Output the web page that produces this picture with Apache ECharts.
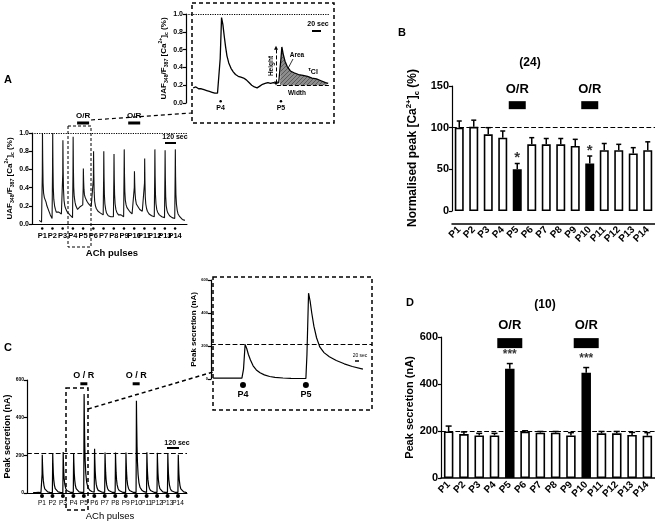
<!DOCTYPE html>
<html>
<head>
<meta charset="utf-8">
<script src="https://cdn.jsdelivr.net/npm/echarts@6/dist/echarts.min.js"></script>
<style>
html, body { margin: 0; padding: 0; background: #fff; }
#chart { width: 655px; height: 521px; }
</style>
</head>
<body>
<div id="chart"></div>
<script>
// ---- shared categories
const pulses = ['P1','P2','P3','P4','P5','P6','P7','P8','P9','P10','P11','P12','P13','P14'];
const orPulses = ['P5', 'P10'];

// ---- panel A: [Ca2+]c ratio trace, [time s, ratio]
const pulseTimesA = [120,240,360,480,600,720,840,960,1080,1200,1320,1440,1560,1680];
const traceA = [
  [85,0.04],[95,0.03],[105,0.05],[112,0.02],[118,0.03],[121,0.55],[123,1.0],[126,0.7],[130,0.45],[136,0.34],[145,0.29],[155,0.27],[165,0.24],[175,0.2],[185,0.18],[195,0.15],[205,0.13],[215,0.1],[225,0.08],[236,0.06],
  [241,0.6],[243,1.0],[246,0.65],[250,0.4],[256,0.27],[265,0.2],[275,0.16],[285,0.13],[295,0.12],[305,0.14],[315,0.13],[325,0.12],[335,0.13],[345,0.11],[356,0.09],
  [361,0.55],[363,0.92],[366,0.6],[370,0.38],[376,0.26],[385,0.2],[395,0.17],[405,0.15],[415,0.13],[425,0.12],[435,0.11],[445,0.1],[455,0.09],[465,0.08],[476,0.07],
  [481,0.55],[483,0.96],[486,0.62],[490,0.4],[496,0.3],[505,0.24],[515,0.2],[525,0.18],[535,0.16],[545,0.15],[555,0.17],[565,0.19],[575,0.21],[585,0.2],[596,0.21],
  [601,0.4],[603,0.61],[606,0.48],[610,0.38],[616,0.32],[625,0.29],[635,0.27],[645,0.25],[655,0.24],[665,0.22],[675,0.21],[685,0.2],[695,0.19],[705,0.2],[716,0.18],
  [721,0.5],[723,0.8],[726,0.55],[730,0.35],[736,0.25],[745,0.2],[755,0.17],[765,0.16],[775,0.14],[785,0.14],[795,0.13],[805,0.12],[815,0.12],[825,0.11],[836,0.1],
  [841,0.5],[843,0.8],[846,0.52],[850,0.32],[856,0.22],[865,0.16],[875,0.12],[885,0.1],[895,0.09],[905,0.08],[915,0.09],[925,0.08],[935,0.09],[945,0.08],[956,0.08],
  [961,0.5],[963,0.77],[966,0.5],[970,0.32],[976,0.22],[985,0.16],[995,0.13],[1005,0.11],[1015,0.1],[1025,0.1],[1035,0.09],[1045,0.1],[1055,0.09],[1065,0.09],[1076,0.08],
  [1081,0.55],[1083,0.82],[1086,0.55],[1090,0.36],[1096,0.26],[1105,0.21],[1115,0.18],[1125,0.17],[1135,0.16],[1145,0.14],[1155,0.13],[1165,0.12],[1175,0.11],[1185,0.1],[1196,0.1],
  [1201,0.4],[1203,0.58],[1206,0.45],[1210,0.34],[1216,0.27],[1225,0.22],[1235,0.2],[1245,0.19],[1255,0.17],[1265,0.16],[1275,0.15],[1285,0.14],[1295,0.14],[1305,0.13],[1316,0.12],
  [1321,0.45],[1323,0.72],[1326,0.48],[1330,0.3],[1336,0.22],[1345,0.17],[1355,0.14],[1365,0.12],[1375,0.11],[1385,0.1],[1395,0.09],[1405,0.09],[1415,0.08],[1425,0.08],[1436,0.08],
  [1441,0.55],[1443,0.82],[1446,0.52],[1450,0.32],[1456,0.22],[1465,0.16],[1475,0.13],[1485,0.11],[1495,0.1],[1505,0.09],[1515,0.08],[1525,0.08],[1535,0.07],[1545,0.07],[1556,0.07],
  [1561,0.55],[1563,0.81],[1566,0.5],[1570,0.3],[1576,0.2],[1585,0.15],[1595,0.12],[1605,0.1],[1615,0.09],[1625,0.08],[1635,0.07],[1645,0.07],[1655,0.06],[1665,0.06],[1676,0.06],
  [1681,0.55],[1683,0.82],[1686,0.52],[1690,0.32],[1696,0.22],[1705,0.15],[1715,0.11],[1725,0.09],[1735,0.08],[1745,0.07],[1755,0.06],[1765,0.05],[1775,0.05],[1785,0.04],[1795,0.04]
];
// inset of A (P4, P5)
const insetPulsesA = ['P4', 'P5'];
const insetTimesA = [77, 211];
const insetTraceA = [
  [16,0.17],[22,0.18],[28,0.16],[34,0.16],[40,0.15],[46,0.14],[52,0.13],[58,0.12],[64,0.11],[70,0.11],[74,0.12],[76,0.5],[79,0.96],[82,0.88],[85,0.75],[88,0.63],[91,0.53],[95,0.45],[100,0.39],[105,0.35],[110,0.32],[116,0.3],[122,0.29],[128,0.28],[134,0.26],[140,0.23],[146,0.2],[152,0.18],[158,0.17],[164,0.19],[170,0.21],[176,0.22],[182,0.23],[188,0.22],[194,0.23],[200,0.22],[206,0.23],
  [209,0.24],[211,0.5],[213,0.63],[216,0.55],[220,0.47],[225,0.41],[232,0.36],[240,0.34],[250,0.32],[260,0.31],[270,0.3],[280,0.28],[290,0.27],[300,0.25],[310,0.23],[316,0.22]
];
const areaBaseA = 0.2;

// ---- panel B: normalised peak [Ca2+]c (%)
const peakB = [100, 101, 92, 88, 50, 80, 80, 80, 78, 57, 73, 73, 69, 73];
const errB  = [108, 109, 100, 96, 57, 88, 87, 87, 86, 66, 81, 80, 76, 83];
const sigB  = ['', '', '', '', '*', '', '', '', '', '*', '', '', '', ''];

// ---- panel C: secretion trace (nA), [time s, nA]
const pulseTimesC = [172,292,412,532,652,772,892,1012,1132,1252,1372,1492,1612,1732];
const traceC = [
  [70,2],[100,2],[130,3],[160,2],[171,2],[173,100],[175,203],[178,152],[182,102],[187,67],[194,41],[204,22],[217,12],[237,6],[262,3],
  [291,2],[293,105],[295,211],[298,158],[302,105],[307,70],[314,42],[324,23],[337,13],[357,6],[382,3],
  [411,2],[413,108],[415,218],[418,163],[422,109],[427,72],[434,44],[444,24],[457,13],[477,7],[502,3],
  [531,3],[533,105],[535,211],[538,158],[542,105],[547,70],[554,42],[564,23],[577,13],[597,6],[622,3],
  [651,3],[653,260],[655,525],[658,395],[662,265],[667,172],[674,105],[684,58],[697,32],[717,16],[742,8],
  [771,4],[773,118],[775,235],[778,176],[782,118],[787,78],[794,47],[804,26],[817,14],[837,7],[862,4],
  [891,3],[893,107],[895,215],[898,161],[902,108],[907,71],[914,43],[924,24],[937,13],[957,6],[982,3],
  [1011,3],[1013,107],[1015,215],[1018,161],[1022,108],[1027,71],[1034,43],[1044,24],[1057,13],[1077,6],[1102,3],
  [1131,3],[1133,107],[1135,215],[1138,161],[1142,108],[1147,71],[1154,43],[1164,24],[1177,13],[1197,6],[1222,3],
  [1251,3],[1253,245],[1255,490],[1258,368],[1262,245],[1267,162],[1274,98],[1284,54],[1297,29],[1317,15],[1342,7],
  [1371,3],[1373,108],[1375,216],[1378,162],[1382,108],[1387,71],[1394,43],[1404,24],[1417,13],[1437,6],[1462,3],
  [1491,3],[1493,106],[1495,213],[1498,160],[1502,106],[1507,70],[1514,43],[1524,23],[1537,13],[1557,6],[1582,3],
  [1611,3],[1613,105],[1615,210],[1618,158],[1622,105],[1627,69],[1634,42],[1644,23],[1657,12],[1677,6],[1702,3],
  [1731,3],[1733,101],[1735,203],[1738,152],[1742,102],[1747,67],[1754,41],[1764,22],[1777,12],[1797,6],[1822,3],[1835,2]
];
const refC = 213;
// inset of C (P4, P5)
const insetPulsesC = ['P4', 'P5'];
const insetTimesC = [60, 178];
const insetTraceC = [
  [4,5],[20,5],[40,5],[58,5],[61,60],[64,210],[67,185],[70,150],[74,115],[79,80],[85,55],[92,38],[100,25],[110,15],[120,10],[135,6],[150,4],[165,3],[178,3],
  [180,150],[183,520],[186,470],[189,400],[193,320],[198,250],[204,195],[212,160],[222,135],[235,112],[250,92],[265,76],[285,60]
];

// ---- panel D: peak secretion (nA)
const peakD = [198, 187, 181, 181, 465, 197, 193, 193, 181, 448, 190, 190, 183, 180];
const errD  = [221, 196, 190, 190, 487, 201, 198, 198, 193, 470, 198, 198, 194, 193];
const sigD  = ['', '', '', '', '***', '', '', '', '', '***', '', '', '', ''];

const FONT = '"Liberation Sans", Arial, sans-serif';

// hatch for the "Area" region
const hatch = document.createElement('canvas');
hatch.width = 4; hatch.height = 4;
const hc = hatch.getContext('2d');
hc.fillStyle = '#8c8c8c'; hc.fillRect(0, 0, 4, 4);
hc.strokeStyle = '#5a5a5a'; hc.lineWidth = 1;
hc.beginPath(); hc.moveTo(0, 4); hc.lineTo(4, 0); hc.stroke();

function richSub(size, lh) {
  return {
    t: { fontSize: size, fontWeight: 'bold', lineHeight: lh, fontFamily: FONT, fill: '#000', color: '#000' },
    s: { fontSize: size * 0.65, fontWeight: 'bold', lineHeight: lh, verticalAlign: 'bottom', fontFamily: FONT, fill: '#000', color: '#000' },
    p: { fontSize: size * 0.65, fontWeight: 'bold', lineHeight: lh, verticalAlign: 'top', fontFamily: FONT, fill: '#000', color: '#000' }
  };
}

function yName(size, lh) {
  return { fontSize: size, fontWeight: 'bold', color: '#000', fontFamily: FONT, rich: richSub(size, lh) };
}

function traceXAxis(grid, max, showLine) {
  return {
    type: 'value', gridIndex: grid, min: 0, max: max,
    axisLine: { show: showLine, onZero: false, lineStyle: { color: '#000', width: 1 } },
    axisTick: { show: false }, axisLabel: { show: false }, splitLine: { show: false }
  };
}

function valueYAxis(grid, max, interval, fs, fmt, name, nameStyle, gap) {
  return {
    type: 'value', gridIndex: grid, min: 0, max: max, interval: interval,
    axisLine: { show: true, lineStyle: { color: '#000', width: 1.2 } },
    axisTick: { show: true, length: 3, lineStyle: { color: '#000', width: 1.2 } },
    axisLabel: { fontSize: fs, fontWeight: 'bold', color: '#000', margin: 3, fontFamily: FONT, formatter: fmt,
                 showMinLabel: true, showMaxLabel: true, hideOverlap: false },
    splitLine: { show: false },
    name: name, nameLocation: 'middle', nameRotate: 90, nameGap: gap, nameTextStyle: nameStyle
  };
}

function errorBars(xi, yi, base, tops, cap) {
  return {
    type: 'custom', xAxisIndex: xi, yAxisIndex: yi, z: 3,
    data: tops.map((t, i) => [i, base[i], t]),
    renderItem(params, api) {
      const lo = api.coord([api.value(0), api.value(1)]);
      const hi = api.coord([api.value(0), api.value(2)]);
      return {
        type: 'group',
        children: [
          { type: 'line', shape: { x1: lo[0], y1: lo[1], x2: hi[0], y2: hi[1] }, style: { stroke: '#000', lineWidth: 1.5 } },
          { type: 'line', shape: { x1: hi[0] - cap / 2, y1: hi[1], x2: hi[0] + cap / 2, y2: hi[1] }, style: { stroke: '#000', lineWidth: 1.5 } }
        ]
      };
    }
  };
}

function barData(vals) {
  return vals.map((v, i) => ({
    value: v,
    itemStyle: { color: orPulses.includes(pulses[i]) ? '#000' : '#fff' }
  }));
}

function sigLabels(xi, yi, tops, sig, fs, dist) {
  return {
    type: 'scatter', xAxisIndex: xi, yAxisIndex: yi, symbolSize: 0, z: 5,
    data: sig.map((s, i) => [i, tops[i], s]).filter(d => d[2]),
    label: { show: true, position: 'top', distance: dist, formatter: p => p.value[2],
             fontSize: fs, fontWeight: 'bold', color: '#000', fontFamily: FONT }
  };
}

function orMarks(xi, yi, xs, y, size, text, fs, dist) {
  return {
    type: 'scatter', xAxisIndex: xi, yAxisIndex: yi, symbol: 'rect', symbolSize: size, clip: false, z: 5,
    itemStyle: { color: '#000', opacity: 1 },
    data: xs.map(x => [x, y]),
    label: { show: true, position: 'top', distance: dist, formatter: text,
             fontSize: fs, fontWeight: 'bold', color: '#000', fontFamily: FONT }
  };
}

function pulseDots(xi, yi, xs, names, y, size, fs, weight, dist) {
  return {
    type: 'scatter', xAxisIndex: xi, yAxisIndex: yi, symbol: 'circle', symbolSize: size, clip: false, z: 5,
    itemStyle: { color: '#000', opacity: 1 },
    data: xs.map((x, i) => [x, y, names[i]]),
    label: { show: true, position: 'bottom', distance: dist, formatter: p => p.value[2],
             fontSize: fs, fontWeight: weight, color: '#000', fontFamily: FONT }
  };
}

function refLine(value, type) {
  return {
    silent: true, symbol: 'none', label: { show: false },
    lineStyle: { color: '#000', type: type, width: 1.2 },
    data: [{ yAxis: value }]
  };
}

const chart = echarts.init(document.getElementById('chart'));

const option = {
  animation: false,
  backgroundColor: '#fff',
  textStyle: { fontFamily: FONT },
  grid: [
    { left: 32, top: 133, width: 155, height: 91, outerBoundsMode: 'none' },   // A
    { left: 186, top: 14, width: 144, height: 89, outerBoundsMode: 'none' },   // A inset
    { left: 452, top: 86, width: 203, height: 125, outerBoundsMode: 'none' },  // B
    { left: 27, top: 380, width: 160, height: 113, outerBoundsMode: 'none' },  // C
    { left: 211, top: 280, width: 161, height: 99, outerBoundsMode: 'none' },  // C inset
    { left: 441, top: 337, width: 214, height: 141, outerBoundsMode: 'none' }  // D
  ],
  xAxis: [
    traceXAxis(0, 1820, true),
    traceXAxis(1, 320, false),
    {
      type: 'category', gridIndex: 2, data: pulses, offset: 13,
      axisLine: { onZero: false, lineStyle: { color: '#000', width: 1.5 } },
      axisTick: { alignWithLabel: true, length: 4, lineStyle: { color: '#000', width: 1.2 } },
      axisLabel: { rotate: 45, fontSize: 10, fontWeight: 'bold', color: '#000', margin: 4, fontFamily: FONT, interval: 0 }
    },
    traceXAxis(3, 1835, true),
    traceXAxis(4, 302, false),
    {
      type: 'category', gridIndex: 5, data: pulses,
      axisLine: { lineStyle: { color: '#000', width: 1.5 } },
      axisTick: { alignWithLabel: true, length: 4, lineStyle: { color: '#000', width: 1.2 } },
      axisLabel: { rotate: 45, fontSize: 10, fontWeight: 'bold', color: '#000', margin: 5, fontFamily: FONT, interval: 0 }
    }
  ],
  yAxis: [
    valueYAxis(0, 1, 0.2, 7, v => v.toFixed(1),
      '{t|UAF}{s|348}{t|/F}{s|387}{t| [Ca}{p|2+}{t|]}{s|c}{t| (%)}', yName(8, 11), 17),
    valueYAxis(1, 1, 0.2, 7, v => v.toFixed(1),
      '{t|UAF}{s|348}{t|/F}{s|387}{t| [Ca}{p|2+}{t|]}{s|c}{t| (%)}', yName(8, 11), 17),
    valueYAxis(2, 150, 50, 11, v => String(v), '', {}, 28),
    valueYAxis(3, 600, 200, 5, null, 'Peak secretion (nA)', yName(9, 12), 12),
    valueYAxis(4, 600, 200, 4, null, 'Peak secretion (nA)', yName(8, 11), 12),
    valueYAxis(5, 600, 200, 11, null, 'Peak secretion (nA)', yName(11, 14), 26)
  ],
  series: [
    // A
    { type: 'line', xAxisIndex: 0, yAxisIndex: 0, data: traceA, showSymbol: false,
      lineStyle: { color: '#111', width: 1.1 }, markLine: refLine(1, 'dotted') },
    pulseDots(0, 0, pulseTimesA, pulses, -0.05, 2.5, 7.5, 'bold', 2),
    orMarks(0, 0, [pulseTimesA[4], pulseTimesA[9]], 1.11, [12, 3], 'O/R', 8, 2),
    // A inset
    { type: 'line', xAxisIndex: 1, yAxisIndex: 1, data: insetTraceA, showSymbol: false,
      lineStyle: { color: '#000', width: 1.3 }, markLine: refLine(1, 'dotted') },
    { type: 'line', xAxisIndex: 1, yAxisIndex: 1, data: insetTraceA.filter(p => p[0] >= 209),
      showSymbol: false, lineStyle: { width: 0 },
      areaStyle: { color: { image: hatch, repeat: 'repeat' }, origin: areaBaseA, opacity: 1 },
      markLine: {
        silent: true, label: { show: false }, symbol: ['none', 'none'],
        lineStyle: { color: '#000', type: 'dashed', width: 1 },
        data: [
          [{ coord: [202, areaBaseA] }, { coord: [318, areaBaseA] }],
          [{ coord: [200, 0.22], symbol: 'triangle', symbolSize: 4, symbolRotate: 180 },
           { coord: [200, 0.62], symbol: 'triangle', symbolSize: 4 }]
        ]
      } },
    pulseDots(1, 1, insetTimesA, insetPulsesA, 0.02, 2.5, 7, 'bold', 2),
    // B
    { type: 'bar', xAxisIndex: 2, yAxisIndex: 2, data: barData(peakB), barWidth: '62%',
      itemStyle: { borderColor: '#000', borderWidth: 1.6 }, markLine: refLine(100, 'dashed') },
    errorBars(2, 2, peakB, errB, 5),
    sigLabels(2, 2, errB, sigB, 15, -2),
    orMarks(2, 2, orPulses, 127, [17, 8], 'O/R', 13, 5),
    // C
    { type: 'line', xAxisIndex: 3, yAxisIndex: 3, data: traceC, showSymbol: false,
      lineStyle: { color: '#000', width: 1.2 }, markLine: refLine(refC, 'dashed') },
    pulseDots(3, 3, pulseTimesC, pulses, -16, 4, 6.5, 'normal', 2),
    orMarks(3, 3, [pulseTimesC[4], pulseTimesC[9]], 580, [7, 3], 'O / R', 9, 2),
    // C inset
    { type: 'line', xAxisIndex: 4, yAxisIndex: 4, data: insetTraceC, showSymbol: false,
      lineStyle: { color: '#000', width: 1.2 }, markLine: refLine(refC, 'dashed') },
    pulseDots(4, 4, insetTimesC, insetPulsesC, -36, 6, 9, 'bold', 2),
    // D
    { type: 'bar', xAxisIndex: 5, yAxisIndex: 5, data: barData(peakD), barWidth: '62%',
      itemStyle: { borderColor: '#000', borderWidth: 1.6 }, markLine: refLine(200, 'dashed') },
    errorBars(5, 5, peakD, errD, 6),
    sigLabels(5, 5, errD, sigD, 12, 3),
    orMarks(5, 5, orPulses, 574, [25, 10], 'O/R', 13, 6)
  ],
  graphic: [
    // panel letters and counts
    { type: 'text', x: 8, y: 80, style: { text: 'A', font: 'bold 11px ' + FONT, fill: '#000', align: 'center', verticalAlign: 'middle' } },
    { type: 'text', x: 402, y: 33, style: { text: 'B', font: 'bold 11px ' + FONT, fill: '#000', align: 'center', verticalAlign: 'middle' } },
    { type: 'text', x: 8, y: 348, style: { text: 'C', font: 'bold 11px ' + FONT, fill: '#000', align: 'center', verticalAlign: 'middle' } },
    { type: 'text', x: 410, y: 303, style: { text: 'D', font: 'bold 11px ' + FONT, fill: '#000', align: 'center', verticalAlign: 'middle' } },
    { type: 'text', x: 530, y: 63, style: { text: '(24)', font: 'bold 12px ' + FONT, fill: '#000', align: 'center', verticalAlign: 'middle' } },
    { type: 'text', x: 545, y: 305, style: { text: '(10)', font: 'bold 12px ' + FONT, fill: '#000', align: 'center', verticalAlign: 'middle' } },
    // B axis title
    { type: 'text', x: 413, y: 148, rotation: Math.PI / 2,
      style: { text: '{t|Normalised peak [Ca}{p|2+}{t|]}{s|c}{t| (%)}', font: 'bold 12px ' + FONT, fill: '#000',
               align: 'center', verticalAlign: 'middle', rich: richSub(12, 16) } },
    { type: 'text', x: 112, y: 253, style: { text: 'ACh pulses', font: 'bold 9.5px ' + FONT, fill: '#000', align: 'center', verticalAlign: 'middle' } },
    { type: 'text', x: 110, y: 516, style: { text: 'ACh pulses', font: '9.5px ' + FONT, fill: '#000', align: 'center', verticalAlign: 'middle' } },
    // scale bars
    { type: 'text', x: 175, y: 137, style: { text: '120 sec', font: 'bold 7px ' + FONT, fill: '#000', align: 'center', verticalAlign: 'middle' } },
    { type: 'line', shape: { x1: 165, y1: 143, x2: 176, y2: 143 }, style: { stroke: '#000', lineWidth: 2 } },
    { type: 'text', x: 318, y: 24, style: { text: '20 sec', font: 'bold 7px ' + FONT, fill: '#000', align: 'center', verticalAlign: 'middle' } },
    { type: 'line', shape: { x1: 312, y1: 31, x2: 321, y2: 31 }, style: { stroke: '#000', lineWidth: 2 } },
    { type: 'text', x: 177, y: 443, style: { text: '120 sec', font: 'bold 7px ' + FONT, fill: '#000', align: 'center', verticalAlign: 'middle' } },
    { type: 'line', shape: { x1: 167, y1: 448, x2: 179, y2: 448 }, style: { stroke: '#000', lineWidth: 2 } },
    { type: 'text', x: 360, y: 356, style: { text: '20 sec', font: '5px ' + FONT, fill: '#000', align: 'center', verticalAlign: 'middle' } },
    { type: 'line', shape: { x1: 355, y1: 361, x2: 359, y2: 361 }, style: { stroke: '#000', lineWidth: 1.5 } },
    // inset A annotations
    { type: 'text', x: 271, y: 66, rotation: Math.PI / 2, style: { text: 'Height', font: 'bold 6.5px ' + FONT, fill: '#000', align: 'center', verticalAlign: 'middle' } },
    { type: 'text', x: 297, y: 55, style: { text: 'Area', font: 'bold 6.5px ' + FONT, fill: '#000', align: 'center', verticalAlign: 'middle' } },
    { type: 'line', shape: { x1: 293, y1: 59, x2: 284, y2: 76 }, style: { stroke: '#000', lineWidth: 0.8 } },
    { type: 'text', x: 313, y: 71, style: { text: '{a|τ}{b|Cl}', font: 'bold 7px ' + FONT, fill: '#000', align: 'center', verticalAlign: 'middle',
      rich: { a: { font: 'bold 6px ' + FONT, verticalAlign: 'top', lineHeight: 10 }, b: { font: 'bold 7px ' + FONT, verticalAlign: 'bottom', lineHeight: 10 } } } },
    { type: 'text', x: 297, y: 93, style: { text: 'Width', font: 'bold 6.5px ' + FONT, fill: '#000', align: 'center', verticalAlign: 'middle' } },
    // zoom boxes, inset frames and connectors
    { type: 'rect', shape: { x: 68, y: 126, width: 23, height: 121 }, style: { fill: 'none', stroke: '#000', lineWidth: 1, lineDash: [3, 2] } },
    { type: 'rect', shape: { x: 192, y: 3, width: 142, height: 120 }, style: { fill: 'none', stroke: '#000', lineWidth: 1.5, lineDash: [4, 3] } },
    { type: 'line', shape: { x1: 91, y1: 120, x2: 192, y2: 113 }, style: { stroke: '#000', lineWidth: 1.2, lineDash: [4, 3] } },
    { type: 'rect', shape: { x: 66, y: 388, width: 22, height: 122 }, style: { fill: 'none', stroke: '#000', lineWidth: 1.5, lineDash: [4, 3] } },
    { type: 'rect', shape: { x: 213, y: 277, width: 159, height: 133 }, style: { fill: 'none', stroke: '#000', lineWidth: 1.5, lineDash: [4, 3] } },
    { type: 'line', shape: { x1: 88, y1: 409, x2: 213, y2: 372 }, style: { stroke: '#000', lineWidth: 1.5, lineDash: [4, 3] } }
  ]
};

chart.setOption(option);
</script>
</body>
</html>
